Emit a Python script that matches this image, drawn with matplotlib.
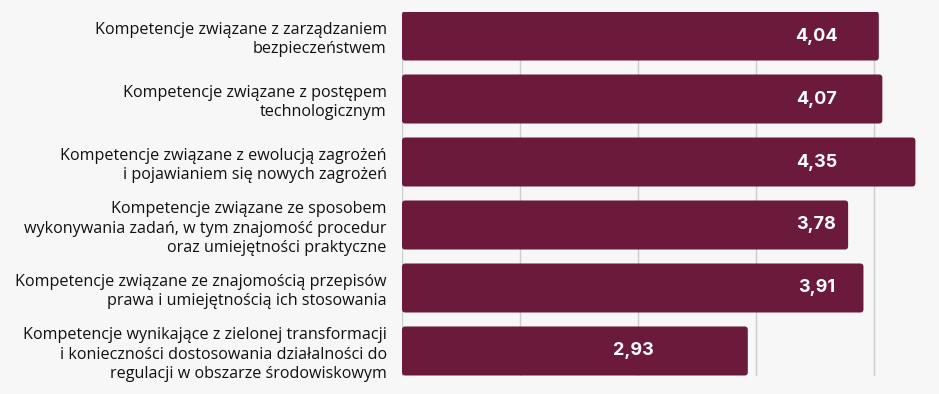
import matplotlib.pyplot as plt
from matplotlib.patches import FancyBboxPatch

# categories, top to bottom
categories = [
    "Kompetencje związane z zarządzaniem\nbezpieczeństwem",
    "Kompetencje związane z postępem\ntechnologicznym",
    "Kompetencje związane z ewolucją zagrożeń\ni pojawianiem się nowych zagrożeń",
    "Kompetencje związane ze sposobem\nwykonywania zadań, w tym znajomość procedur\noraz umiejętności praktyczne",
    "Kompetencje związane ze znajomością przepisów\nprawa i umiejętnością ich stosowania",
    "Kompetencje wynikające z zielonej transformacji\ni konieczności dostosowania działalności do\nregulacji w obszarze środowiskowym",
]
values = [4.04, 4.07, 4.35, 3.78, 3.91, 2.93]
value_labels = ["4,04", "4,07", "4,35", "3,78", "3,91", "2,93"]
grid_ticks = [0, 1, 2, 3, 4]

bar_color = "#6C1A3B"
bg = "#F7F7F7"

fig = plt.figure(figsize=(9.39, 3.94), dpi=100, facecolor=bg)
ax = fig.add_axes([402 / 939, 18.5 / 394, 537 / 939, 364 / 394], facecolor=bg)

ypos = list(range(len(values)))
bars = ax.barh(ypos, values, height=0.778, color=bar_color)

ax.set_xlim(0, 4.55)
ax.set_ylim(len(values) - 1 + 0.389, -0.389)

# swap the plain rectangles for slightly rounded ones
aspect = (537 / 4.55) / (364 / (len(values) - 1 + 0.778))
for b in bars:
    b.set_visible(False)
    ax.add_patch(FancyBboxPatch(
        (b.get_x(), b.get_y()), b.get_width(), b.get_height(),
        boxstyle="round,pad=0,rounding_size=0.028", mutation_aspect=aspect,
        facecolor=bar_color, edgecolor="none", zorder=3))

ax.set_xticks(grid_ticks)
ax.grid(axis="x", color="#CCCCCC", linewidth=1)
ax.set_axisbelow(True)
ax.tick_params(axis="x", length=0, labelbottom=False)
ax.tick_params(axis="y", length=0, pad=11)
for s in ax.spines.values():
    s.set_visible(False)

ax.set_yticks(ypos)
ax.set_yticklabels(categories, fontsize=11.6, family="Open Sans",
                   color="#111111", linespacing=1.28)

# value labels sit in a common column, shorter bars get them inside
for y, v, lab in zip(ypos, values, value_labels):
    x = 3.51 if v > 3.5 else v - 0.97
    ax.text(x, y, lab, ha="center", va="center", color="white",
            fontsize=13, fontweight="bold", family="Inter", zorder=4)

fig.savefig("out.png", dpi=100, facecolor=bg)
